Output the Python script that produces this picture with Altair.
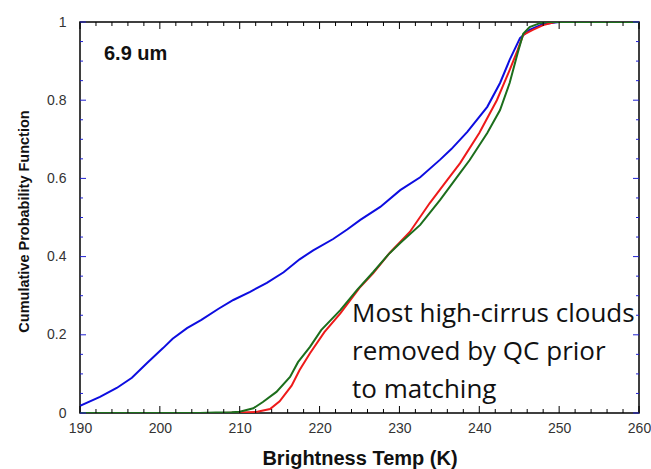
import altair as alt
import pandas as pd

# Brightness temperature (K) and cumulative probability
blue_t = [190, 192.5, 194.6, 196.5, 198.4, 200.4, 201.6, 203.4, 205.2, 207.3, 209.2, 211.3,
          213.4, 215.5, 217.5, 219.2, 221.7, 223.5, 225.1, 227.6, 230.1, 232.6, 235.1, 236.5,
          238.5, 241, 242.6, 243.8, 245.1, 246.3, 248, 250, 260]
blue_p = [0.018, 0.041, 0.064, 0.09, 0.128, 0.166, 0.19, 0.217, 0.238, 0.266, 0.289, 0.31,
          0.333, 0.36, 0.393, 0.416, 0.445, 0.47, 0.494, 0.527, 0.57, 0.603, 0.648, 0.675,
          0.719, 0.783, 0.844, 0.903, 0.959, 0.98, 0.995, 1.0, 1.0]

red_t = [190, 208, 210, 212.2, 213.8, 215, 216.5, 217.5, 218.8, 220.6, 222.6, 225, 226.7,
         228.8, 231.3, 233.8, 236, 237.6, 240, 242.2, 243.8, 244.8, 245.5, 246.7, 248, 249.5, 260]
red_p = [0.0, 0.0, 0.001, 0.003, 0.01, 0.03, 0.07, 0.11, 0.153, 0.207, 0.255, 0.32, 0.357,
         0.41, 0.463, 0.537, 0.596, 0.639, 0.716, 0.80, 0.877, 0.928, 0.967, 0.98, 0.992, 1.0, 1.0]

green_t = [190, 205, 207, 209, 210, 211.7, 212.9, 214.6, 216.3, 217.3, 218.8, 220.2, 222.6,
           224.7, 226.7, 228.6, 230.1, 232.6, 235.1, 237.6, 238.8, 241, 242.6, 243.8, 244.8,
           245.5, 246.3, 247.6, 248.5, 260]
green_p = [0.0, 0.0, 0.001, 0.002, 0.003, 0.012, 0.028, 0.054, 0.092, 0.13, 0.169, 0.212, 0.263,
           0.315, 0.36, 0.405, 0.435, 0.481, 0.545, 0.614, 0.647, 0.716, 0.775, 0.844, 0.92,
           0.97, 0.987, 0.997, 1.0, 1.0]

x_major = [190, 200, 210, 220, 230, 240, 250, 260]
x_minor = [v for v in range(190, 261, 2) if v % 10 != 0]
y_major = [0, 0.2, 0.4, 0.6, 0.8, 1.0]
y_minor = [0.05, 0.1, 0.15, 0.25, 0.3, 0.35, 0.45, 0.5, 0.55, 0.65, 0.7, 0.75, 0.85, 0.9, 0.95]

W, H = 559, 391
FONT = "Liberation Sans"

xscale = alt.Scale(domain=[190, 260], nice=False, zero=False)
yscale = alt.Scale(domain=[0, 1], nice=False)

x_axis = alt.Axis(values=x_major, ticks=False, domain=False, grid=False, labelPadding=8,
                  labelFontSize=14, labelColor="#333333", labelFont=FONT,
                  title="Brightness Temp (K)", titleFont=FONT, titleFontSize=20,
                  titleFontWeight="bold", titleColor="#111111", titleY=45,
                  titleBaseline="middle", labelFlush=False)
y_axis = alt.Axis(values=y_major, ticks=False, domain=False, grid=False, labelPadding=14,
                  labelFontSize=14, labelColor="#333333", labelFont=FONT,
                  format="~g", title="Cumulative Probability Function", titleFont=FONT,
                  titleFontSize=14.5, titleFontWeight="bold", titleColor="#111111",
                  titleX=-56, titleY=199, titleBaseline="middle", titleAlign="center",
                  labelFlush=False)


def series(t, p, color):
    df = pd.DataFrame({"t": t, "p": p})
    return alt.Chart(df).mark_line(color=color, strokeWidth=2, clip=True).encode(
        x=alt.X("t:Q", scale=xscale, axis=x_axis),
        y=alt.Y("p:Q", scale=yscale, axis=y_axis),
    )


def xticks(vals, y0, y1, color):
    df = pd.DataFrame({"t": vals})
    return alt.Chart(df).mark_rule(color=color, strokeWidth=1).encode(
        x=alt.X("t:Q", scale=xscale, axis=x_axis),
        y=alt.value(y0), y2=alt.value(y1))


def yticks(vals, x0, x1, color):
    df = pd.DataFrame({"p": vals})
    return alt.Chart(df).mark_rule(color=color, strokeWidth=1).encode(
        y=alt.Y("p:Q", scale=yscale, axis=y_axis),
        x=alt.value(x0), x2=alt.value(x1))


TICK_BLUE = "#2020d0"
layers = [
    series(blue_t, blue_p, "#0d0de0"),
    series(red_t, red_p, "#ee1a1a"),
    series(green_t, green_p, "#1c6e1c"),
    xticks(x_major, H, H - 7, "black"),
    xticks(x_minor, H, H - 4, "black"),
    xticks(x_major, 0, 7, "black"),
    xticks(x_minor, 0, 4, "black"),
    yticks(y_major, 0, 6, TICK_BLUE),
    yticks(y_minor, 0, 3, TICK_BLUE),
    yticks(y_major, W, W - 6, TICK_BLUE),
    yticks(y_minor, W, W - 3, TICK_BLUE),
    alt.Chart(pd.DataFrame({"a": [0]})).mark_text(
        font=FONT, fontSize=20, fontWeight="bold", align="left", baseline="alphabetic",
        color="#111111").encode(x=alt.value(24), y=alt.value(38), text=alt.value("6.9 um")),
    alt.Chart(pd.DataFrame({"a": [0]})).mark_text(
        font="Open Sans", fontSize=26, align="left", baseline="alphabetic", lineHeight=38,
        color="#111111").encode(
        x=alt.value(272), y=alt.value(300),
        text=alt.value(["Most high-cirrus clouds", "removed by QC prior", "to matching"])),
]

chart = alt.layer(*layers).properties(
    width=W, height=H,
    autosize=alt.AutoSizeParams(type="none"),
    padding={"left": 80, "top": 22, "right": 12, "bottom": 56},
    background="white",
).configure_view(stroke="black", strokeWidth=1.5)

chart.save("out.html", embed_options={"renderer": "svg", "actions": False})
